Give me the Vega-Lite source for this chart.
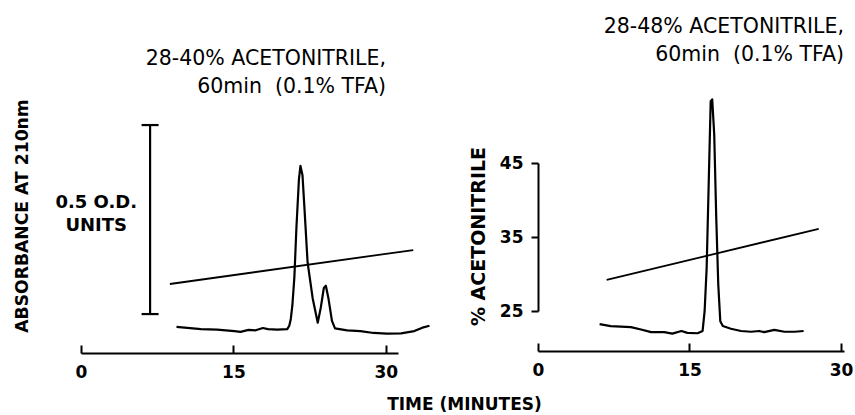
{
  "$schema": "https://vega.github.io/schema/vega-lite/v6.json",
  "background": "white",
  "padding": {"left": 12, "top": 16, "right": 5, "bottom": 5},
  "bounds": "flush",
  "spacing": 140,
  "config": {
    "view": {"stroke": null},
    "font": "DejaVu Sans",
    "axis": {
      "labelFont": "DejaVu Sans", "labelFontSize": 17, "labelFontWeight": "bold", "labelColor": "black", "labelFlush": false,
      "titleFont": "DejaVu Sans", "titleColor": "black", "titleFontWeight": "bold",
      "domainColor": "black", "domainWidth": 2, "tickColor": "black", "tickWidth": 2, "grid": false
    },
    "title": {"font": "DejaVu Sans", "fontSize": 20.5, "fontWeight": "normal", "color": "black", "lineHeight": 28, "anchor": "end", "frame": "group"}
  },
  "datasets": {
    "left_trace": [
      {"time": 9.4, "absorbance": 0.069}, {"time": 11.8, "absorbance": 0.063}, {"time": 13.4, "absorbance": 0.062},
      {"time": 15.1, "absorbance": 0.058}, {"time": 15.7, "absorbance": 0.056}, {"time": 16.5, "absorbance": 0.061},
      {"time": 17.2, "absorbance": 0.060}, {"time": 17.9, "absorbance": 0.066}, {"time": 18.4, "absorbance": 0.063},
      {"time": 19.3, "absorbance": 0.062}, {"time": 20.3, "absorbance": 0.063}, {"time": 20.5, "absorbance": 0.072},
      {"time": 20.65, "absorbance": 0.09}, {"time": 20.8, "absorbance": 0.125}, {"time": 21.0, "absorbance": 0.2},
      {"time": 21.2, "absorbance": 0.33}, {"time": 21.45, "absorbance": 0.46}, {"time": 21.6, "absorbance": 0.495},
      {"time": 21.8, "absorbance": 0.47}, {"time": 22.0, "absorbance": 0.38}, {"time": 22.3, "absorbance": 0.24},
      {"time": 22.8, "absorbance": 0.145}, {"time": 23.3, "absorbance": 0.08}, {"time": 23.6, "absorbance": 0.12},
      {"time": 23.9, "absorbance": 0.172}, {"time": 24.1, "absorbance": 0.178}, {"time": 24.35, "absorbance": 0.145},
      {"time": 24.7, "absorbance": 0.085}, {"time": 25.0, "absorbance": 0.065}, {"time": 26.2, "absorbance": 0.060},
      {"time": 27.5, "absorbance": 0.058}, {"time": 28.8, "absorbance": 0.053}, {"time": 30.1, "absorbance": 0.051},
      {"time": 31.5, "absorbance": 0.052}, {"time": 32.8, "absorbance": 0.058}, {"time": 33.6, "absorbance": 0.067},
      {"time": 34.3, "absorbance": 0.072}
    ],
    "right_trace": [
      {"time": 6.1, "absorbance": 0.071}, {"time": 7.2, "absorbance": 0.066}, {"time": 9.2, "absorbance": 0.063},
      {"time": 10.2, "absorbance": 0.057}, {"time": 11.2, "absorbance": 0.050}, {"time": 12.5, "absorbance": 0.050},
      {"time": 13.3, "absorbance": 0.046}, {"time": 14.2, "absorbance": 0.053}, {"time": 14.8, "absorbance": 0.048},
      {"time": 15.8, "absorbance": 0.047}, {"time": 16.3, "absorbance": 0.053}, {"time": 16.5, "absorbance": 0.106},
      {"time": 16.7, "absorbance": 0.220}, {"time": 16.9, "absorbance": 0.44}, {"time": 17.1, "absorbance": 0.661},
      {"time": 17.25, "absorbance": 0.666}, {"time": 17.45, "absorbance": 0.573}, {"time": 17.65, "absorbance": 0.353},
      {"time": 17.85, "absorbance": 0.176}, {"time": 18.05, "absorbance": 0.079}, {"time": 18.3, "absorbance": 0.066},
      {"time": 19.1, "absorbance": 0.059}, {"time": 20.1, "absorbance": 0.053}, {"time": 21.1, "absorbance": 0.051},
      {"time": 21.9, "absorbance": 0.053}, {"time": 22.4, "absorbance": 0.050}, {"time": 23.4, "absorbance": 0.056},
      {"time": 24.4, "absorbance": 0.051}, {"time": 25.4, "absorbance": 0.051}, {"time": 26.3, "absorbance": 0.053}
    ],
    "left_gradient": [
      {"time": 8.75, "acetonitrile": 28.65}, {"time": 32.7, "acetonitrile": 33.24}
    ],
    "right_gradient": [
      {"time": 6.8, "acetonitrile": 29.2}, {"time": 27.8, "acetonitrile": 36.1}
    ],
    "scalebar": [
      {"time": 6.8, "absorbance": 0.103}, {"time": 6.8, "absorbance": 0.603}
    ],
    "scalebar_label": [
      {"label": "0.5 O.D.\nUNITS"}
    ]
  },
  "hconcat": [
    {
      "width": 317,
      "height": 234,
      "title": {"text": ["28-40% ACETONITRILE,", "60min\u00a0 (0.1% TFA)"], "dx": -12, "offset": 1},
      "layer": [
        {
          "layer": [
            {
              "data": {"name": "left_trace"},
              "mark": {"type": "line", "color": "black", "strokeWidth": 2.2, "strokeJoin": "round"},
              "encoding": {
                "x": {
                  "field": "time", "type": "quantitative", "title": "TIME (MINUTES)",
                  "scale": {"domain": [0, 31.2], "nice": false, "zero": false},
                  "axis": {"values": [0, 15, 30], "tickSize": -8, "labelPadding": 19, "titleX": 383, "titleY": 51, "titleAlign": "center", "titleBaseline": "middle", "titleFontSize": 17}
                },
                "y": {
                  "field": "absorbance", "type": "quantitative", "title": "ABSORBANCE AT 210nm",
                  "scale": {"domain": [0, 0.619], "nice": false, "zero": false},
                  "axis": {"domain": false, "ticks": false, "labels": false, "titleX": -59, "titleY": 96.5, "titleBaseline": "middle", "titleAlign": "center", "titleFontSize": 17.2}
                }
              }
            },
            {
              "data": {"name": "scalebar"},
              "mark": {"type": "line", "color": "black", "strokeWidth": 2.2},
              "encoding": {
                "x": {"field": "time", "type": "quantitative", "title": "TIME (MINUTES)"},
                "y": {"field": "absorbance", "type": "quantitative", "title": "ABSORBANCE AT 210nm"}
              }
            },
            {
              "data": {"name": "scalebar"},
              "mark": {"type": "tick", "orient": "horizontal", "color": "black", "size": 17, "thickness": 2.2, "opacity": 1},
              "encoding": {
                "x": {"field": "time", "type": "quantitative", "title": "TIME (MINUTES)"},
                "y": {"field": "absorbance", "type": "quantitative", "title": "ABSORBANCE AT 210nm"}
              }
            },
            {
              "data": {"name": "scalebar_label"},
              "mark": {"type": "text", "font": "DejaVu Sans", "fontSize": 18, "fontWeight": "bold", "lineHeight": 23, "lineBreak": "\n", "align": "center", "baseline": "middle", "color": "black"},
              "encoding": {
                "text": {"field": "label"},
                "x": {"datum": 1.5, "type": "quantitative"},
                "y": {"datum": 0.397, "type": "quantitative"}
              }
            }
          ]
        },
        {
          "data": {"name": "left_gradient"},
          "mark": {"type": "line", "color": "black", "strokeWidth": 1.8},
          "encoding": {
            "x": {"field": "time", "type": "quantitative", "title": "TIME (MINUTES)"},
            "y": {"field": "acetonitrile", "type": "quantitative", "scale": {"domain": [25, 45], "range": [192, 44], "nice": false, "zero": false}, "axis": null}
          }
        }
      ],
      "resolve": {"scale": {"y": "independent"}}
    },
    {
      "width": 306,
      "height": 232,
      "title": {"text": ["28-48% ACETONITRILE,", "60min\u00a0 (0.1% TFA)"], "offset": 33},
      "layer": [
        {
          "data": {"name": "right_gradient"},
          "mark": {"type": "line", "color": "black", "strokeWidth": 1.8},
          "encoding": {
            "x": {
              "field": "time", "type": "quantitative", "title": null,
              "scale": {"domain": [0, 30.3], "nice": false, "zero": false},
              "axis": {"values": [0, 15, 30], "tickSize": -8, "labelPadding": 19}
            },
            "y": {
              "field": "acetonitrile", "type": "quantitative", "title": "% ACETONITRILE",
              "scale": {"domain": [25, 45], "range": [192, 44], "nice": false, "zero": false},
              "axis": {"values": [25, 35, 45], "tickSize": 7, "labelPadding": 8, "titleX": -60, "titleY": 117, "titleBaseline": "middle", "titleAlign": "center", "titleFontSize": 19}
            }
          }
        },
        {
          "data": {"name": "right_trace"},
          "mark": {"type": "line", "color": "black", "strokeWidth": 2.2, "strokeJoin": "round"},
          "encoding": {
            "x": {"field": "time", "type": "quantitative", "title": null},
            "y": {"field": "absorbance", "type": "quantitative", "scale": {"domain": [0, 0.614], "nice": false, "zero": false}, "axis": null}
          }
        }
      ],
      "resolve": {"scale": {"y": "independent"}}
    }
  ]
}
